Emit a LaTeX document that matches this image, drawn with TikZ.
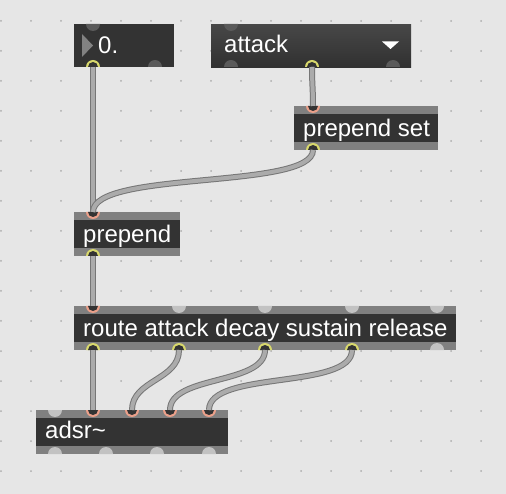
\documentclass[tikz,border=0pt]{standalone}
\usepackage{fontspec}
\setmainfont{Liberation Sans}
\definecolor{bg}{HTML}{E6E6E6}
\definecolor{griddot}{HTML}{ADADAD}
\definecolor{objgray}{HTML}{808080}
\definecolor{objdark}{HTML}{333333}
\definecolor{portlight}{HTML}{C2C2C2}
\definecolor{portdark}{HTML}{5A5A5A}
\definecolor{inpink}{HTML}{EBA08A}
\definecolor{outyel}{HTML}{D8D86C}
\definecolor{cableedge}{HTML}{767676}
\definecolor{cablefill}{HTML}{ABABAB}
\definecolor{tri}{HTML}{828282}
\begin{document}
\begin{tikzpicture}[x=1pt,y=1pt,
  objbox/.style={draw=none,fill=objgray,inner sep=0pt,anchor=north west,
    path picture={\fill[objdark] ([yshift=-8pt]path picture bounding box.north west) rectangle ([yshift=8pt]path picture bounding box.south east);}},
  uibox/.style={draw=none,inner sep=0pt,anchor=north west},
  objtext/.style={anchor=base west,inner sep=0pt,text=white,font=\fontsize{24}{28}\selectfont},
  cable/.style={draw=cableedge,double=cablefill,line width=1pt,double distance=4pt,line cap=butt}]
\useasboundingbox (0,0) rectangle (506,-494);
\fill[bg] (0,0) rectangle (506,-494);
% grid dots
\foreach \gx in {1,31,...,481}{\foreach \gy in {21,51,...,471}{\fill[griddot] (\gx,-\gy) circle[radius=1];}}
% port macros
\newcommand{\inport}[3]{\fill[#3] (#1-7,-#2) arc[start angle=180,end angle=360,radius=7] -- cycle;}
\newcommand{\outport}[3]{\fill[#3] (#1-7,-#2) arc[start angle=180,end angle=0,radius=7] -- cycle;}
\newcommand{\inconn}[2]{\fill[inpink] (#1-7,-#2) arc[start angle=180,end angle=360,radius=7] -- cycle;
  \fill[objdark] (#1-5,-#2) arc[start angle=180,end angle=360,radius=5] -- cycle;}
\newcommand{\outconn}[2]{\fill[outyel] (#1-7,-#2) arc[start angle=180,end angle=0,radius=7] -- cycle;
  \fill[objdark] (#1-5,-#2) arc[start angle=180,end angle=0,radius=5] -- cycle;}
% number box
\node[uibox,fill=objdark,minimum width=100pt,minimum height=43pt] (num) at (74,-24) {};
\fill[tri] (82,-34) -- (93,-45.5) -- (82,-57) -- cycle;
\node[objtext] (numtxt) at (98,-54) {0.};
\inport{93}{24}{portdark}
\outport{155}{67}{portdark}
\outconn{93}{67}
% umenu
\node[uibox,top color=objdark!90!white,bottom color=objdark!95!black,minimum width=200pt,minimum height=43pt] (menu) at (211,-24) {};
\node[objtext] (menutxt) at (224,-53) {attack};
\fill[white] (382,-41.5) -- (399,-41.5) -- (390.5,-49) -- cycle;
\inport{231}{24}{portdark}
\outport{231}{67}{portdark}
\outport{393}{67}{portdark}
\outconn{312}{67}
% prepend set
\node[objbox,minimum width=144pt,minimum height=44pt] (pset) at (294,-106) {};
\node[objtext] (psettxt) at (303,-137) {prepend set};
\inconn{313}{106}
\outconn{313}{150}
% prepend
\node[objbox,minimum width=106pt,minimum height=44pt] (prep) at (74,-212) {};
\node[objtext] (preptxt) at (83,-243) {prepend};
\inconn{93}{212}
\outconn{93}{256}
% route
\node[objbox,minimum width=382pt,minimum height=44pt] (route) at (74,-306) {};
\node[objtext] (routetxt) at (83,-337) {route attack decay sustain release};
\inconn{93}{306}
\foreach \px in {179,265,352,437}{\inport{\px}{306}{portlight}}
\foreach \px in {93,179,265,352}{\outconn{\px}{350}}
\outport{437}{350}{portlight}
% adsr
\node[objbox,minimum width=192pt,minimum height=44pt] (adsr) at (36,-410) {};
\node[objtext] (adsrtxt) at (45,-438) {adsr\char`\~};
\inport{55}{410}{portlight}
\foreach \px in {93,132,170,209}{\inconn{\px}{410}}
\foreach \px in {55,106,157,209}{\outport{\px}{454}{portlight}}
% connection points
\coordinate (numout) at (93,-67);
\coordinate (menuout) at (312,-67);
\coordinate (psetin) at (313,-106);
\coordinate (psetout) at (313,-150);
\coordinate (prepin) at (93,-212);
\coordinate (prepout) at (93,-256);
\coordinate (routein) at (93,-306);
\coordinate (ro1) at (93,-350);
\coordinate (ro2) at (179,-350);
\coordinate (ro3) at (265,-350);
\coordinate (ro4) at (352,-350);
\coordinate (ai1) at (93,-410);
\coordinate (ai2) at (132,-410);
\coordinate (ai3) at (170,-410);
\coordinate (ai4) at (209,-410);
% cables
\draw[cable] (numout) -- (prepin);
\draw[cable] (menuout) .. controls (312,-85) and (313,-88) .. (psetin);
\draw[cable] (psetout) .. controls (313,-190) and (93,-170) .. (prepin);
\draw[cable] (prepout) -- (routein);
\draw[cable] (ro1) -- (ai1);
\draw[cable] (ro2) .. controls (179,-380) and (132,-380) .. (ai2);
\draw[cable] (ro3) .. controls (265,-385) and (170,-375) .. (ai3);
\draw[cable] (ro4) .. controls (352,-390) and (209,-370) .. (ai4);
\end{tikzpicture}
\end{document}
